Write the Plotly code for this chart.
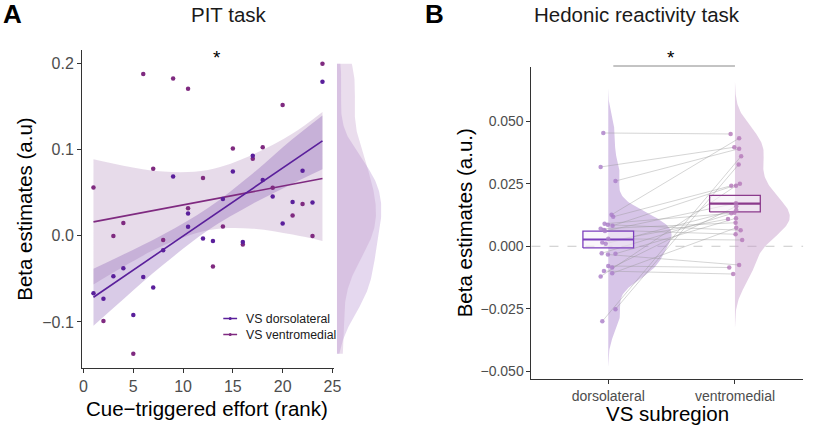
import numpy as np
import plotly.graph_objects as go

# ---------------- Panel A data (PIT task) ----------------
rank = [1, 2, 3, 4, 5, 6, 7, 8, 9, 10.5, 10.5, 12, 13, 14, 15, 16, 17, 18, 19, 20, 21, 22, 23, 24]
beta_dorsolateral = [-0.0667, -0.073, -0.047, -0.0376, -0.092, -0.0477, -0.060, -0.0167, 0.069, 0.0105,
                     0.026, -0.003, -0.006, 0.043, 0.0748, -0.007, 0.093, 0.065, 0.0457, 0.0143,
                     0.0395, 0.0756, 0.0387, 0.179]
beta_ventromedial = [0.0562, -0.099, 0.0, 0.015, -0.137, 0.188, 0.078, -0.0047, 0.183, 0.171,
                     0.032, 0.0674, -0.0357, 0.011, 0.1015, -0.010, 0.0895, 0.103, 0.056, 0.152,
                     0.0236, 0.037, 0.0, 0.200]

fit_x = [1, 24]
fit_dorsolateral = [-0.0713, 0.1105]
fit_ventromedial = [0.0163, 0.0667]

band_x = [1, 4, 8, 12.5, 17, 21, 24]
band_dl_lo = [-0.1043, -0.0735, -0.0336, 0.0065, 0.0374, 0.0607, 0.0773]
band_dl_hi = [-0.0383, -0.0217, 0.0016, 0.0325, 0.0726, 0.1125, 0.1400]
band_vm_lo = [-0.0564, -0.0358, -0.0113, 0.0066, 0.0084, 0.0015, -0.0059]
band_vm_hi = [0.0890, 0.0816, 0.0747, 0.0766, 0.0944, 0.1189, 0.1440]

a_xticks = [0, 5, 10, 15, 20, 25]
a_yticks = [-0.1, 0.0, 0.1, 0.2]
a_yticktext = ["\u22120.1", "0.0", "0.1", "0.2"]
legend_names = ["VS dorsolateral", "VS ventromedial"]

# ---------------- Panel B data (Hedonic reactivity task) ----------------
categories = ["dorsolateral", "ventromedial"]
hed_dorsolateral = [0.0453, 0.0317, 0.0261, -0.030, -0.0252, 0.0126, 0.0118, 0.009, 0.0086, 0.0082,
                    0.007, 0.0065, 0.0061, 0.0015, 0.003, 0.001, -0.0028, -0.003, -0.0033, -0.0079,
                    -0.0085, -0.0099, -0.0108, -0.0121]
hed_ventromedial = [0.0449, 0.0396, 0.039, 0.036, 0.0327, 0.0432, 0.0242, 0.0132, 0.0064, 0.025,
                    0.0094, 0.0048, 0.0172, 0.0109, 0.0025, 0.0145, 0.0134, 0.0112, -0.0075, -0.0085,
                    0.016, -0.0111, 0.0074, 0.0242]
jit_dorsolateral = [-0.039, -0.060, 0.057, -0.047, 0.057, 0.026, 0.039, -0.029, -0.003, 0.034,
                    -0.060, -0.034, -0.026, -0.047, 0.0, -0.02, -0.052, 0.057, -0.003, 0.0,
                    0.031, -0.034, 0.031, -0.06]
jit_ventromedial = [-0.034, -0.005, 0.033, 0.049, 0.029, 0.033, -0.029, -0.029, 0.045, 0.039,
                    0.005, 0.005, 0.008, -0.055, 0.057, 0.01, -0.005, 0.008, 0.033, -0.045,
                    0.01, -0.014, 0.01, 0.008]
b_yticks = [-0.05, -0.025, 0.0, 0.025, 0.05]
b_yticktext = ["\u22120.050", "\u22120.025", "0.000", "0.025", "0.050"]

# ---------------- helpers ----------------
def nrd0(v):
    v = np.asarray(v, float)
    sd = v.std(ddof=1)
    q75, q25 = np.percentile(v, [75, 25])
    return 0.9 * min(sd, (q75 - q25) / 1.34) * len(v) ** -0.2

def kde(v, grid):
    v = np.asarray(v, float)
    bw = nrd0(v)
    z = (grid[:, None] - v[None, :]) / bw
    return np.exp(-0.5 * z ** 2).sum(1) / (len(v) * bw * np.sqrt(2 * np.pi))

FONT = "Liberation Sans, Arial, Helvetica, sans-serif"
C_DL = "#5a1f9b"
C_VM = "#7f2a80"
W, H = 820, 429

def px(x):
    return x / W

def py(y):
    return (H - y) / H

fig = go.Figure()

# ---- Panel A: confidence bands ----
for lo, hi, col in [(band_vm_lo, band_vm_hi, "rgba(160,110,170,0.25)"),
                    (band_dl_lo, band_dl_hi, "rgba(120,70,170,0.28)")]:
    fig.add_trace(go.Scatter(x=band_x, y=lo, mode="lines", line=dict(width=0, shape="spline"),
                             showlegend=False, hoverinfo="skip", xaxis="x", yaxis="y"))
    fig.add_trace(go.Scatter(x=band_x, y=hi, mode="lines", line=dict(width=0, shape="spline"),
                             fill="tonexty", fillcolor=col, showlegend=False, hoverinfo="skip",
                             xaxis="x", yaxis="y"))

# fit lines
fig.add_trace(go.Scatter(x=fit_x, y=fit_ventromedial, mode="lines", line=dict(color=C_VM, width=1.6),
                         showlegend=False, xaxis="x", yaxis="y"))
fig.add_trace(go.Scatter(x=fit_x, y=fit_dorsolateral, mode="lines", line=dict(color=C_DL, width=1.6),
                         showlegend=False, xaxis="x", yaxis="y"))
# points
fig.add_trace(go.Scatter(x=rank, y=beta_ventromedial, mode="markers",
                         marker=dict(color=C_VM, size=4.5), showlegend=False, xaxis="x", yaxis="y"))
fig.add_trace(go.Scatter(x=rank, y=beta_dorsolateral, mode="markers",
                         marker=dict(color=C_DL, size=4.5), showlegend=False, xaxis="x", yaxis="y"))

# marginal densities
all_y = np.array(beta_dorsolateral + beta_ventromedial)
grid = np.linspace(all_y.min(), all_y.max(), 200)
d_dl = kde(beta_dorsolateral, grid)
d_vm = kde(beta_ventromedial, grid)
dmax = max(d_dl.max(), d_vm.max())
for d, col in [(d_dl, "rgba(175,135,205,0.32)"), (d_vm, "rgba(190,150,200,0.32)")]:
    fig.add_trace(go.Scatter(x=np.concatenate([[0], d, [0]]),
                             y=np.concatenate([[grid[0]], grid, [grid[-1]]]),
                             mode="lines", line=dict(width=0), fill="toself", fillcolor=col,
                             showlegend=False, hoverinfo="skip", xaxis="x3", yaxis="y"))

# ---- Panel B ----
vals = [hed_dorsolateral, hed_ventromedial]
dens = []
for v in vals:
    bw = nrd0(v)
    g = np.linspace(min(v) - 3 * bw, max(v) + 3 * bw, 200)
    dens.append((g, kde(v, g)))
vmax = max(d.max() for _, d in dens)
violin_cols = ["rgba(175,140,210,0.5)", "rgba(195,150,200,0.45)"]
for i, (g, d) in enumerate(dens):
    xc = i + 1
    xs = np.concatenate([xc + 0.5 * d / vmax, [xc, xc]])
    ys = np.concatenate([g, [g[-1], g[0]]])
    fig.add_trace(go.Scatter(x=xs, y=ys, mode="lines", line=dict(width=0), fill="toself",
                             fillcolor=violin_cols[i], showlegend=False, hoverinfo="skip",
                             xaxis="x2", yaxis="y2"))

# paired lines
lx, ly = [], []
for a, b, ja, jb in zip(hed_dorsolateral, hed_ventromedial, jit_dorsolateral, jit_ventromedial):
    lx += [1 + ja, 2 + jb, None]
    ly += [a, b, None]
fig.add_trace(go.Scatter(x=lx, y=ly, mode="lines", line=dict(color="rgba(150,150,150,0.5)", width=0.8),
                         showlegend=False, hoverinfo="skip", xaxis="x2", yaxis="y2"))

# mean +- SE boxes
box_cols = ["#7d3fbd", "#8b3a8c"]
for i, v in enumerate(vals):
    v = np.asarray(v)
    m = v.mean()
    se = v.std(ddof=1) / np.sqrt(len(v))
    xc = i + 1
    fig.add_trace(go.Scatter(x=[xc - 0.2, xc + 0.2, xc + 0.2, xc - 0.2, xc - 0.2],
                             y=[m - se, m - se, m + se, m + se, m - se], mode="lines",
                             line=dict(color=box_cols[i], width=1.3), fill="toself",
                             fillcolor="rgba(246,240,249,0.6)", showlegend=False, hoverinfo="skip",
                             xaxis="x2", yaxis="y2"))
    fig.add_trace(go.Scatter(x=[xc - 0.2, xc + 0.2], y=[m, m], mode="lines",
                             line=dict(color=box_cols[i], width=2.2), showlegend=False,
                             hoverinfo="skip", xaxis="x2", yaxis="y2"))

# points
pt_cols = ["rgba(170,125,200,0.8)", "rgba(180,120,185,0.8)"]
for i, (v, j) in enumerate([(hed_dorsolateral, jit_dorsolateral), (hed_ventromedial, jit_ventromedial)]):
    fig.add_trace(go.Scatter(x=[i + 1 + t for t in j], y=v, mode="markers",
                             marker=dict(color=pt_cols[i], size=4.5), showlegend=False,
                             xaxis="x2", yaxis="y2"))

def axis_common(size):
    return dict(showgrid=False, zeroline=False, showline=True, linecolor="#333333", linewidth=1,
                ticks="outside", ticklen=4, tickcolor="#333333", tickwidth=1,
                tickfont=dict(family=FONT, size=size, color="#4d4d4d"))

fig.update_layout(
    width=W, height=H, margin=dict(l=0, r=0, t=0, b=0),
    paper_bgcolor="white", plot_bgcolor="white", showlegend=False,
    font=dict(family=FONT),
    xaxis=dict(domain=[px(80), px(335)], range=[-0.15, 25.15], tickvals=a_xticks, anchor="y",
               **axis_common(16)),
    yaxis=dict(domain=[py(368), py(50)], range=[-0.1535, 0.216], tickvals=a_yticks,
               ticktext=a_yticktext, anchor="x", **axis_common(16)),
    xaxis3=dict(domain=[px(338), px(395)], range=[0, dmax * 57 / 45], anchor="y", visible=False),
    xaxis2=dict(domain=[px(535), px(810)], range=[0.394, 2.538], tickvals=[1, 2],
                ticktext=categories, anchor="y2", **axis_common(14)),
    yaxis2=dict(domain=[py(379.3), py(66.7)], range=[-0.0532, 0.0718], tickvals=b_yticks,
                ticktext=b_yticktext, anchor="x2", **axis_common(14)),
)

# zero dashed line in B
fig.add_shape(type="line", xref="x2 domain", yref="y2", x0=0, x1=1, y0=0, y1=0,
              line=dict(color="#c8c8c8", width=1, dash="dash"), layer="below")
# significance bracket in B
fig.add_shape(type="line", xref="x2", yref="paper", x0=1.04, x1=2.0, y0=py(66), y1=py(66),
              line=dict(color="#888888", width=1))

# legend (manual) in A: one two-line text block with keys
leg_center = 326.5
leg_step = 16.0
for k, col in enumerate([C_DL, C_VM]):
    yy = leg_center + (k - 0.5) * leg_step
    fig.add_shape(type="line", xref="paper", yref="paper", x0=px(223), x1=px(237), y0=py(yy), y1=py(yy),
                  line=dict(color=col, width=1.5))
    fig.add_shape(type="circle", xref="paper", yref="paper", x0=px(228.5), x1=px(231.5),
                  y0=py(yy + 1.5), y1=py(yy - 1.5), fillcolor=col, line=dict(width=0))
fig.add_annotation(x=px(245), y=py(leg_center), xref="paper", yref="paper",
                   text="<br>".join(legend_names), showarrow=False, align="left",
                   xanchor="left", yanchor="middle", borderpad=0,
                   font=dict(family=FONT, size=12.3, color="#1a1a1a"))

ann = [
    ("A", px(10), py(14), 26, "#000", True, 0),
    ("B", px(437), py(14), 26, "#000", True, 0),
    ("PIT task", px(228.5), py(14), 20.5, "#1a1a1a", False, 0),
    ("Hedonic reactivity task", px(642), py(14), 20.5, "#1a1a1a", False, 0),
    ("Cue\u2212triggered effort (rank)", px(207), py(408), 20.5, "#000", False, 0),
    ("VS subregion", px(672.5), py(413), 20.5, "#000", False, 0),
    ("Beta estimates (a.u)", px(21), py(209), 20.5, "#000", False, -90),
    ("Beta estimates (a.u.)", px(467), py(223), 20.5, "#000", False, -90),
    ("*", px(216.5), py(57), 19, "#000", False, 0),
    ("*", px(676), py(57), 19, "#000", False, 0),
]
for text, x, y, size, col, bold, ang in ann:
    fig.add_annotation(x=x, y=y, xref="paper", yref="paper", showarrow=False,
                       text=f"<b>{text}</b>" if bold else text, textangle=ang,
                       xanchor="center", yanchor="middle",
                       font=dict(family=FONT, size=size, color=col))

fig.write_html("out.html", config={"displayModeBar": False},
               post_script="document.body.style.margin='0';")
